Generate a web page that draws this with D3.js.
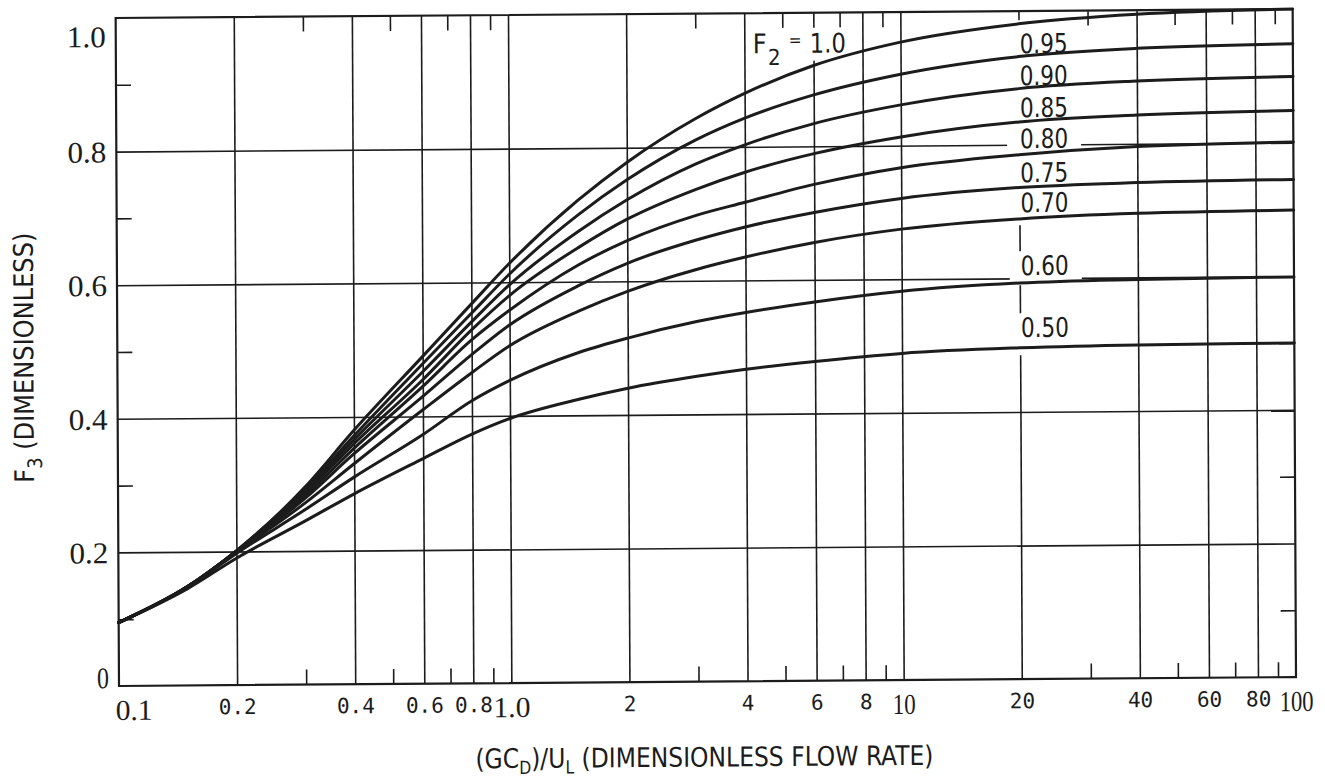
<!DOCTYPE html>
<html><head><meta charset="utf-8">
<script src="https://cdn.jsdelivr.net/npm/d3@7"></script>
<style>body{margin:0;background:#fff}</style>
</head><body>
<svg id="c" width="1325" height="784"></svg>
<script>
// ---------------- data ----------------
const xValues = [0.1, 0.15, 0.2, 0.3, 0.4, 0.6, 0.8, 1, 1.5, 2, 3, 4, 6, 10, 20, 40, 100];
const seriesLabels = ["1.0", "0.95", "0.90", "0.85", "0.80", "0.75", "0.70", "0.60", "0.50"];
const f3_F2_100 = [0.095,0.148,0.201,0.296,0.380,0.490,0.568,0.628,0.722,0.778,0.843,0.880,0.921,0.955,0.981,0.994,1.000];
const f3_F2_095 = [0.095,0.148,0.201,0.293,0.372,0.479,0.554,0.612,0.700,0.752,0.811,0.843,0.877,0.907,0.932,0.943,0.948];
const f3_F2_090 = [0.095,0.148,0.201,0.290,0.366,0.467,0.541,0.596,0.675,0.722,0.775,0.803,0.834,0.861,0.884,0.894,0.899];
const f3_F2_085 = [0.095,0.148,0.200,0.287,0.360,0.455,0.529,0.580,0.651,0.693,0.737,0.762,0.789,0.813,0.834,0.843,0.848];
const f3_F2_080 = [0.095,0.148,0.200,0.283,0.353,0.445,0.514,0.558,0.625,0.661,0.698,0.717,0.743,0.767,0.785,0.796,0.801];
const f3_F2_075 = [0.095,0.148,0.200,0.279,0.345,0.430,0.492,0.536,0.594,0.627,0.661,0.680,0.701,0.721,0.736,0.742,0.745];
const f3_F2_070 = [0.095,0.147,0.199,0.272,0.330,0.410,0.465,0.505,0.556,0.585,0.617,0.635,0.656,0.675,0.689,0.696,0.699];
const f3_F2_060 = [0.095,0.147,0.197,0.262,0.310,0.373,0.423,0.453,0.494,0.515,0.539,0.552,0.567,0.582,0.593,0.597,0.599];
const f3_F2_050 = [0.095,0.145,0.190,0.245,0.285,0.337,0.373,0.396,0.424,0.440,0.457,0.467,0.478,0.489,0.496,0.499,0.500];
const seriesValues = [f3_F2_100, f3_F2_095, f3_F2_090, f3_F2_085, f3_F2_080, f3_F2_075, f3_F2_070, f3_F2_060, f3_F2_050];

const xGridTicks  = [0.2, 0.4, 0.6, 0.8, 1, 2, 4, 6, 8, 10, 20, 40, 60, 80];
const xMinorTicks = [0.3, 0.5, 0.7, 0.9, 3, 5, 7, 9, 30, 50, 70, 90];
const xLabelValues = [0.1, 0.2, 0.4, 0.6, 0.8, 1, 2, 4, 6, 8, 10, 20, 40, 60, 80, 100];
const xLabelTexts  = ["0.1","0.2","0.4","0.6","0.8","1.0","2","4","6","8","10","20","40","60","80","100"];
const yGridTicks  = [0.2, 0.4, 0.6, 0.8];
const yMinorTicks = [0.1, 0.3, 0.5, 0.7, 0.9];
const yLabelValues = [0, 0.2, 0.4, 0.6, 0.8, 1.0];
const yLabelTexts  = ["0", "0.2", "0.4", "0.6", "0.8", "1.0"];

// ---------------- layout ----------------
const L = 119, R = 1296, T = 18, B = 686;
const INK = "#1c1c1c";
const svg = d3.select("#c");
svg.append("rect").attr("width",1325).attr("height",784).attr("fill","#fff");
// the scanned page is very slightly tilted
const g = svg.append("g")
  .attr("transform", `translate(${L},${B}) matrix(1,-0.0076,0.005,1,0,0) translate(${-L},${-B})`);

const x = d3.scaleLog().domain([0.1, 100]).range([L, R]);
const y = d3.scaleLinear().domain([0, 1]).range([B, T]);

function clean(sel, w) {
  sel.select(".domain").remove();
  sel.selectAll("line").attr("stroke", INK).attr("stroke-width", w);
}
// vertical grid
g.append("g").attr("transform", `translate(0,${B})`)
  .call(d3.axisBottom(x).tickValues(xGridTicks).tickSize(-(B - T)).tickFormat(""))
  .call(s => clean(s, 1.6));
// horizontal grid
g.append("g").attr("transform", `translate(${L},0)`)
  .call(d3.axisLeft(y).tickValues(yGridTicks).tickSize(-(R - L)).tickFormat(""))
  .call(s => clean(s, 1.6));
// minor ticks bottom / top
g.append("g").attr("transform", `translate(0,${B})`)
  .call(d3.axisBottom(x).tickValues(xMinorTicks).tickSize(-15).tickFormat(""))
  .call(s => clean(s, 1.6));
g.append("g").attr("transform", `translate(0,${T})`)
  .call(d3.axisTop(x).tickValues(xMinorTicks).tickSize(-15).tickFormat(""))
  .call(s => clean(s, 1.6));
// minor ticks left / right
g.append("g").attr("transform", `translate(${L},0)`)
  .call(d3.axisLeft(y).tickValues(yMinorTicks).tickSize(-15).tickFormat(""))
  .call(s => clean(s, 1.6));
g.append("g").attr("transform", `translate(${R},0)`)
  .call(d3.axisRight(y).tickValues(yMinorTicks).tickSize(-15).tickFormat(""))
  .call(s => clean(s, 1.6));

// white boxes behind curve labels (they interrupt grid lines)
const xl = x(20);
const boxes = [
  [xl - 12, 27, 74, 205],
  [xl - 10, 258, 72, 34],
  [xl - 10, 320, 72, 42],
  [752, 33, 100, 33]
];
g.selectAll("rect.box").data(boxes).join("rect").attr("class","box")
  .attr("x", d => d[0]).attr("y", d => d[1]).attr("width", d => d[2]).attr("height", d => d[3])
  .attr("fill", "#fff");

// curves
const line = d3.line().x((d, i) => x(xValues[i])).y(d => y(d)).curve(d3.curveMonotoneX);
g.selectAll("path.curve").data(seriesValues).join("path").attr("class","curve")
  .attr("d", line).attr("fill","none").attr("stroke", INK).attr("stroke-width", 3)
  .attr("stroke-linejoin","round").attr("stroke-linecap","round");

// frame
g.append("rect").attr("x", L).attr("y", T).attr("width", R - L).attr("height", B - T)
  .attr("fill","none").attr("stroke", INK).attr("stroke-width", 2.2);

// y labels
const yAx = g.append("g").attr("transform", `translate(${L},0)`)
  .call(d3.axisLeft(y).tickValues(yLabelValues).tickSize(0).tickPadding(10)
        .tickFormat((d, i) => yLabelTexts[i]));
yAx.select(".domain").remove();
yAx.selectAll("text")
  .attr("font-family", "'Liberation Serif', serif").attr("font-size", 30)
  .attr("fill", INK).attr("x", -10)
  .attr("dy", d => d === 1 ? "0.95em" : (d === 0 ? "0.05em" : "0.34em"))
  .attr("textLength", (d, i) => yLabelTexts[i].length === 1 ? 12 : 39)
  .attr("lengthAdjust", "spacingAndGlyphs");

// x labels
const bigSet = new Set([0.1, 1, 10, 100]);
const xAx = g.append("g").attr("transform", `translate(0,${B})`)
  .call(d3.axisBottom(x).tickValues(xLabelValues).tickSize(0)
        .tickFormat((d, i) => xLabelTexts[i]));
xAx.select(".domain").remove();
xAx.selectAll("text")
  .attr("fill", INK).attr("dy", 0)
  .attr("y", d => bigSet.has(d) ? 34 : 29)
  .attr("font-family", d => bigSet.has(d) ? "'Liberation Serif', serif" : "'DejaVu Sans Mono', monospace")
  .attr("font-size", d => bigSet.has(d) ? 29 : 21)
  .attr("text-anchor", d => d === 0.1 ? "start" : "middle")
  .attr("x", d => d === 0.1 ? -4 : 0)
  .attr("textLength", (d, i) => {
     const t = xLabelTexts[i];
     if (!bigSet.has(d)) return null;
     return t === "10" ? 23 : (t === "100" ? 34 : 37);
  })
  .attr("lengthAdjust", "spacingAndGlyphs");

// curve labels
const LF = "'DejaVu Sans Condensed', 'DejaVu Sans', sans-serif";
const labelBase = [null, 60, 92, 124, 155, 189, 219, 282, 344];
const cl = g.append("g").attr("font-family", LF).attr("font-size", 27).attr("fill", INK)
  .style("font-stretch", "condensed");
seriesLabels.forEach((s, i) => {
  if (i === 0) return;
  cl.append("text").attr("x", xl + 1).attr("y", labelBase[i]).text(s)
    .attr("textLength", 48).attr("lengthAdjust", "spacingAndGlyphs");
});
// F2 = 1.0
cl.append("text").attr("x", 756).attr("y", 58).text("F");
cl.append("text").attr("x", 771).attr("y", 70).attr("font-size", 22).text("2");
cl.append("text").attr("x", 792).attr("y", 51).attr("font-size", 17).text("=");
cl.append("text").attr("x", 813).attr("y", 58).text(seriesLabels[0])
  .attr("textLength", 36).attr("lengthAdjust", "spacingAndGlyphs");

// axis titles
const TF = "'DejaVu Sans Condensed', 'DejaVu Sans', sans-serif";
const xt = g.append("text").attr("x", 475).attr("y", 771).attr("font-family", TF)
  .attr("font-size", 27).attr("fill", INK).style("font-stretch","condensed")
  .attr("textLength", 458).attr("lengthAdjust", "spacingAndGlyphs");
xt.append("tspan").text("(GC");
xt.append("tspan").attr("dy", 6).attr("font-size", 18).text("D");
xt.append("tspan").attr("dy", -6).text(")/U");
xt.append("tspan").attr("dy", 6).attr("font-size", 18).text("L");
xt.append("tspan").attr("dy", -6).text(" (DIMENSIONLESS FLOW RATE)");

const yt = g.append("text").attr("transform", "translate(35,357) rotate(-90)")
  .attr("text-anchor", "middle").attr("font-family", TF)
  .attr("font-size", 27).attr("fill", INK).style("font-stretch","condensed")
  .attr("textLength", 250).attr("lengthAdjust", "spacingAndGlyphs");
yt.append("tspan").text("F");
yt.append("tspan").attr("dy", 8).attr("font-size", 20).text("3");
yt.append("tspan").attr("dy", -8).text(" (DIMENSIONLESS)");
</script>
</body></html>
